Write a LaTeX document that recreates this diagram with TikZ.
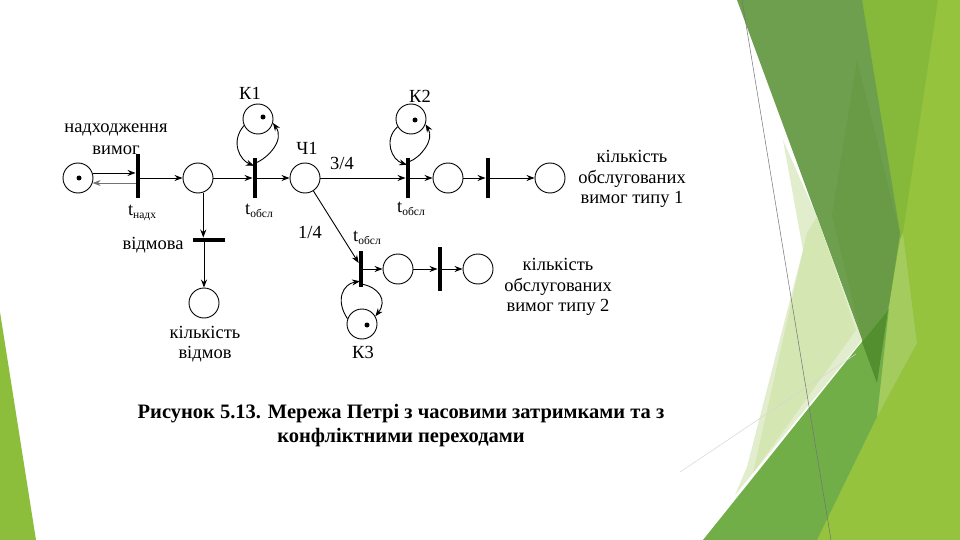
\documentclass[tikz,border=0pt]{standalone}
\usepackage{fontspec}
\setmainfont{Liberation Serif}
\usetikzlibrary{arrows.meta,calc}
\definecolor{limeA}{HTML}{86B83A}
\definecolor{limeB}{HTML}{95C33D}
\definecolor{limeP}{HTML}{A4CB5E}
\definecolor{darkG}{HTML}{6D9F4F}
\definecolor{darkGb}{HTML}{699B46}
\definecolor{paleG}{HTML}{E2EDCD}
\definecolor{paleM}{HTML}{D4E6B2}
\definecolor{midG}{HTML}{72AE48}
\definecolor{darkest}{HTML}{538F2F}
\definecolor{leftG}{HTML}{8DBE3B}
\newcommand{\sbt}[1]{\raisebox{-3pt}{\fontsize{11.5}{11.5}\selectfont #1}}
\begin{document}
\begin{tikzpicture}[x=1pt,y=-1pt,
  place/.style={circle,draw,line width=0.9pt,minimum size=30pt,inner sep=0pt},
  vbar/.style={fill=black,minimum width=4.5pt,minimum height=40pt,inner sep=0pt},
  hbar/.style={fill=black,minimum width=32pt,minimum height=4.5pt,inner sep=0pt},
  arr/.style={line width=0.9pt,-{Stealth[length=8pt,width=6pt]}},
  lbl/.style={font=\fontsize{18.5}{20.5}\selectfont,inner sep=0pt,align=center},
  captxt/.style={font=\bfseries\fontsize{20.5}{24}\selectfont,inner sep=0pt,align=center},
  tok/.style={circle,fill=black,minimum size=5pt,inner sep=0pt},
]
\useasboundingbox (0,0) rectangle (960,540);
\fill[white] (0,0) rectangle (960,540);
% background decoration
\fill[leftG] (0,312) -- (36,540) -- (0,540) -- cycle;
\fill[limeA] (850,0) -- (960,0) -- (960,540) -- (817,540) -- (877,417) -- (889,308) -- cycle;
\fill[limeB] (938,0) -- (960,0) -- (960,540) -- (817,540) -- (877,417) -- (917,343) -- (903,233) -- cycle;
\fill[limeP] (903,233) -- (917,343) -- (877,417) -- (880,380) -- (887,317) -- (900,240) -- cycle;
\fill[darkG] (737,0) -- (862,0) -- (900,233) -- (887,317) -- (877,383) -- (862,340) -- (817,217) -- cycle;
\fill[darkGb] (857,60) -- (900,233) -- (887,317) -- (877,383) -- (862,340) -- (832,215) -- cycle;
\fill[paleG] (783,140) -- (817,217) -- (862,340) -- (735,495) -- (747,467) -- (790,300) -- (803,250) -- cycle;
\fill[paleM] (807,233) -- (817,217) -- (856,330) -- (753,473) -- cycle;
\fill[midG] (703,540) -- (889,308) -- (877,417) -- (817,540) -- cycle;
\fill[darkest] (862,342) -- (888,310) -- (887,317) -- (877,383) -- cycle;
\draw[black!55,line width=0.5pt] (742,0) -- (831,540);
\draw[black!16,line width=0.5pt] (680,472) -- (856,354);

% places and transitions
\node[place] (P0) at (78,178) {};
\node[tok] (d0) at (79,178) {};
\node[vbar,minimum height=44pt] (Tn) at (138,176) {};
\node[place] (P1) at (198,178) {};
\node[vbar] (T1) at (255,178) {};
\node[place] (K1) at (258,119) {};
\node[tok] (d1) at (263,117) {};
\node[place] (Ch1) at (305,178) {};
\node[vbar] (T2) at (408,178) {};
\node[place] (K2) at (411,119) {};
\node[tok] (d2) at (415,120) {};
\node[place] (P2) at (448,178) {};
\node[vbar] (T3) at (488,178) {};
\node[place] (P3) at (550,178) {};
\node[hbar] (Tv) at (209,240) {};
\node[place] (P4) at (204,303) {};
\node[vbar,minimum height=36pt] (T4) at (361,269) {};
\node[place] (P5) at (398,269) {};
\node[vbar,minimum height=44pt] (T5) at (440,269) {};
\node[place] (P6) at (478,269) {};
\node[place] (K3) at (362,324) {};
\node[tok] (d3) at (367,325) {};
\coordinate (t4in) at (358.7,263);

% connectors
\draw[arr] (P0.19.5) -- (P0.19.5 -| Tn.west);
\draw[arr,black!55] (Tn.west |- P0.-19.5) -- (P0.-19.5);
\draw[arr] (Tn.east |- P1) -- (P1);
\draw[arr] (P1) -- (T1);
\draw[arr] (T1) -- (Ch1);
\draw[arr] (Ch1) -- (T2);
\draw[arr] (T2) -- (P2);
\draw[arr] (P2) -- (T3);
\draw[arr] (T3) -- (P3);
\draw[arr] (P1.-70) -- (P1.-70 |- Tv.north);
\draw[arr] (Tv.south -| P4) -- (P4);
\draw[arr] (Ch1.-57) -- (t4in);
\draw[arr] (T4) -- (P5);
\draw[arr] (P5) -- (T5);
\draw[arr] (T5) -- (P6);
% loops
\draw[arr] (K1.205) .. controls (230,142) and (240,160) .. ($(T1.north)+(-1,8)$);
\draw[arr] ($(T1.north)+(1,5)$) .. controls (268,158) and (285,140) .. (K1.-15);
\draw[arr] (K2.210) .. controls (383,140) and (392,160) .. ($(T2.north)+(-1,7)$);
\draw[arr] ($(T2.north)+(1,4)$) .. controls (420,158) and (435,140) .. (K2.-20);
\draw[arr] (K3.160) .. controls (335,300) and (343,284) .. ($(T4.south)+(-1,-6)$);
\draw[arr] ($(T4.south)+(1,-3)$) .. controls (378,287) and (388,300) .. (K3.30);

% labels
\node[lbl] (lnadh) at (116,130) {надходження};
\node[lbl] (lvym) at (116,150) {вимог};
\node[lbl] (ltn) at (142,213) {t\sbt{надх}};
\node[lbl] (lK1) at (250,93) {К1};
\node[lbl] (lCh1) at (307,148) {Ч1};
\node[lbl] (lt1) at (259,211) {t\sbt{обсл}};
\node[lbl] (l34) at (342,163) {3/4};
\node[lbl] (l14) at (310,232) {1/4};
\node[lbl] (lK2) at (420,96) {К2};
\node[lbl] (lt2) at (411,209) {t\sbt{обсл}};
\node[lbl] (lt4) at (367,238) {t\sbt{обсл}};
\node[lbl] (lK3) at (363,352) {К3};
\node[lbl] (lvidm) at (153,245) {відмова};
\node[lbl] (lkv) at (205,344) {кількість\\відмов};
\node[lbl] (lk1) at (632,179) {кількість\\обслугованих\\вимог типу 1};
\node[lbl] (lk2) at (558,287) {кількість\\обслугованих\\вимог типу 2};
\node[captxt] (caption) at (401,426) {Рисунок 5.13. Мережа Петрі з часовими затримками та з\\конфліктними переходами};
\end{tikzpicture}
\end{document}
